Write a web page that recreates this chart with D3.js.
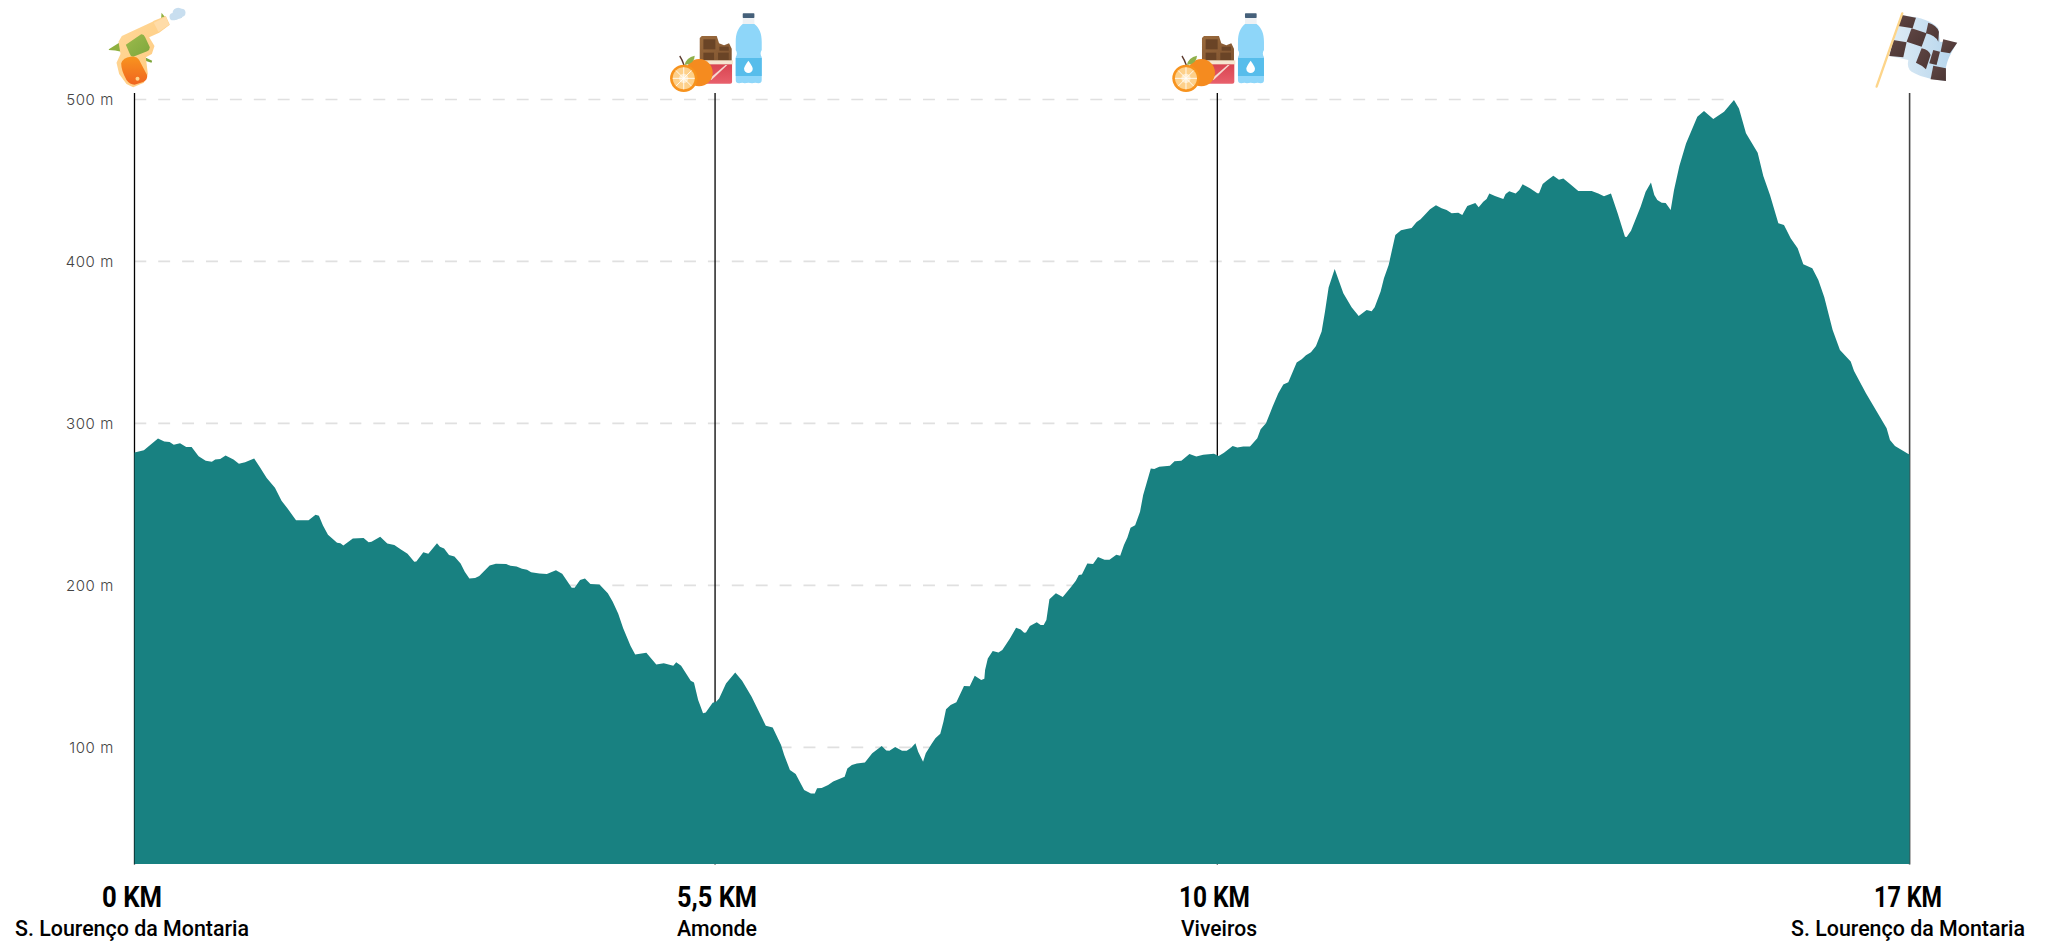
<!DOCTYPE html>
<html><head><meta charset="utf-8">
<script src="https://cdnjs.cloudflare.com/ajax/libs/d3/7.8.5/d3.min.js"></script>
<style>html,body{margin:0;padding:0;background:#fff}svg{display:block}</style>
</head><body><svg id="c" width="2049" height="941"></svg>
<script>
const distanceKm=[0,0.09,0.225,0.285,0.336,0.376,0.436,0.495,0.547,0.614,0.682,0.741,0.773,0.821,0.872,0.948,1.0,1.059,1.146,1.198,1.266,1.345,1.408,1.464,1.547,1.667,1.734,1.766,1.805,1.853,1.94,1.972,2.0,2.091,2.194,2.242,2.27,2.353,2.421,2.488,2.548,2.615,2.679,2.699,2.766,2.814,2.897,2.925,2.965,3.012,3.064,3.123,3.163,3.207,3.262,3.302,3.401,3.461,3.56,3.6,3.659,3.711,3.759,3.798,3.878,3.949,4.036,4.096,4.148,4.187,4.215,4.267,4.314,4.366,4.453,4.533,4.58,4.632,4.68,4.751,4.795,4.902,4.997,5.069,5.16,5.188,5.235,5.327,5.358,5.398,5.416,5.445,5.471,5.537,5.57,5.599,5.665,5.753,5.819,5.91,6.046,6.112,6.192,6.222,6.277,6.332,6.413,6.478,6.515,6.537,6.581,6.643,6.691,6.801,6.827,6.87,6.918,6.995,7.065,7.156,7.2,7.23,7.285,7.351,7.395,7.439,7.479,7.505,7.552,7.578,7.633,7.67,7.717,7.747,7.772,7.816,7.871,7.944,7.999,8.047,8.109,8.139,8.146,8.172,8.219,8.274,8.311,8.384,8.443,8.487,8.52,8.538,8.575,8.641,8.678,8.707,8.733,8.762,8.824,8.89,8.971,9.015,9.044,9.073,9.125,9.18,9.227,9.29,9.337,9.403,9.44,9.476,9.509,9.539,9.583,9.63,9.66,9.733,9.766,9.814,9.916,9.96,10.026,10.103,10.169,10.235,10.338,10.383,10.434,10.517,10.562,10.619,10.683,10.753,10.785,10.836,10.9,10.954,11.002,11.05,11.13,11.178,11.219,11.267,11.315,11.369,11.401,11.436,11.494,11.577,11.656,11.724,11.8,11.848,11.877,11.934,11.966,12.011,12.075,12.129,12.183,12.231,12.279,12.317,12.407,12.464,12.518,12.566,12.614,12.678,12.716,12.764,12.841,12.873,12.917,12.949,12.975,13.029,13.109,13.131,13.166,13.227,13.262,13.294,13.364,13.435,13.451,13.486,13.524,13.588,13.642,13.684,13.748,13.827,13.955,14.019,14.073,14.14,14.204,14.274,14.29,14.332,14.424,14.472,14.523,14.555,14.584,14.626,14.664,14.712,14.744,14.795,14.859,14.967,15.031,15.12,15.223,15.318,15.366,15.433,15.545,15.599,15.663,15.743,15.797,15.861,15.928,15.982,16.068,16.126,16.183,16.263,16.333,16.436,16.468,16.582,16.78,16.812,16.86,16.988,17];
const elevationM=[282.1,283.5,290.7,288.9,288.5,286.8,287.7,285.4,285.4,279.8,277,276.3,277.8,278,280.2,277.8,275.1,276.1,278.4,273.3,266.3,260.3,252.3,247.7,240.3,240.3,243.6,243,237,231.3,226.3,226.1,224.7,229,229.2,226.7,227,230,225.9,224.9,222.4,219.5,214.6,214.8,220.4,219.5,226.1,223.9,222.8,218.7,217.9,213.6,208.4,204.3,204.5,205.8,212.3,213.4,213.2,212.1,211.7,210.3,209.7,208.2,207.4,207,209.3,207.2,202.3,198.6,198.6,203.3,204.3,200.8,200.6,195.1,189.9,182.7,173.5,162.6,157.4,158.4,151.2,151.9,150.4,152.5,150.4,141.2,140.1,129.2,126.1,121,121.6,127.6,128.2,130.2,139.5,146.3,141.2,131.3,113.4,112.3,101.4,95.3,86,83.5,73.7,71.6,71.6,74.7,74.9,76.7,79,81.9,87,89.1,90.1,90.7,96.3,100.8,98.1,97.9,100.2,97.9,97.9,99.8,102.5,97.3,91.2,96.3,102.1,105.6,108.4,115.8,123.5,126.1,127.8,137.9,137.7,144.2,141.6,142.4,147.7,154.9,159.5,158.6,160.1,167.3,173.9,172.8,170.8,171,174.9,177.2,175.5,175.5,178.6,191.4,195.1,192.8,199.2,202.9,206.4,206.8,213.6,213.2,217.5,215.8,215.8,218.9,218.3,224.9,229.6,235.6,237.2,245.5,255.8,272.2,271.8,273.3,273.9,276.7,277,281.1,279.6,280.7,281.3,279.9,281.9,286.1,285.1,285.7,285.7,290.9,296.4,300.1,310.4,318.6,324,325.4,337.6,339.6,342.1,343.9,347.8,356.7,369,384,395.4,380.4,371.7,366.4,370.1,369.3,371.7,381.4,389.6,397.8,416.4,419.2,420.1,420.7,424.4,426,432.2,434.7,432.8,431.8,429.7,430.1,428.7,434.3,436.1,433.4,436.9,438.6,441.9,440.4,438.6,441.7,443.3,441.9,444.1,447.6,445.2,442.1,442.1,447.8,449.9,453,450.5,451.3,447.8,443.5,443.5,441.9,440.2,441.9,429.7,415.3,415.1,419,433.8,443.1,448.7,441,438,436.3,436.1,431.8,444.1,458.9,472.9,489.4,492.9,488,492.5,499.7,494.5,479.1,467.2,452.8,441.1,423.6,422.5,414.3,408.1,398.3,395.8,388.6,377.9,357.7,345.4,338.2,332.4,318.6,297,289.8,286.1,281.2,281];
const yTicks=[100,200,300,400,500];
const stopKm=[0,5.56,10.37,17];
const stopKmLabels=["0 KM","5,5 KM","10 KM","17 KM"];
const stopPlaces=["S. Lourenço da Montaria","Amonde","Viveiros","S. Lourenço da Montaria"];

const plotLeft=134.5,plotRight=1909.6,plotTop=99.5,plotBottom=864;
const x=d3.scaleLinear().domain([0,17]).range([plotLeft,plotRight]);
const y=d3.scaleLinear().domain([500,28]).range([plotTop,plotBottom]);
const svg=d3.select("#c");
const TEAL="#188181";

// gradients
const defs=svg.append("defs");
function grad(id,a,b,x2=0,y2=1){const g=defs.append("linearGradient").attr("id",id).attr("x1",0).attr("y1",0).attr("x2",x2).attr("y2",y2);
 g.append("stop").attr("offset",0).attr("stop-color",a);g.append("stop").attr("offset",1).attr("stop-color",b);}
grad("gBody","#ffd99a","#ffc97c",1,1);grad("gGrip","#f8941f","#f0651f");grad("gGreen","#9cbb4d","#7ea63c",1,1);
grad("gWrap","#d8434f","#e8606c");grad("gBlue","#e0edf6","#b4d4ec",1,0);grad("gDark","#5f4644","#4c3634",1,1);
grad("gChoc","#9a6a3c","#7d5230",1,1);

// grid
const gridEnd=1730;
svg.append("g").selectAll("line").data(yTicks).join("line")
 .attr("x1",plotLeft-.2).attr("x2",gridEnd).attr("y1",d=>y(d)).attr("y2",d=>y(d))
 .attr("stroke","#e0e0e0").attr("stroke-width",1.7).attr("stroke-dasharray","11.95 11.95");

// marker lines
svg.append("g").selectAll("line").data(stopKm).join("line")
 .attr("x1",d=>x(d)).attr("x2",d=>x(d)).attr("y1",93).attr("y2",864.5)
 .attr("stroke",(d,i)=>i===3?"#444":"#000").attr("stroke-width",(d,i)=>i===3?1.6:1.3);

// area
const area=d3.area().x(d=>x(d[0])).y0(plotBottom).y1(d=>y(d[1]));
svg.append("path").datum(d3.zip(distanceKm,elevationM)).attr("d",area).attr("fill",TEAL);

// y labels
svg.append("g").selectAll("text").data(yTicks).join("text")
 .attr("x",114).attr("y",d=>y(d)+5.5).attr("text-anchor","end")
 .attr("font-family","'Inter','Roboto',sans-serif").attr("font-weight",300).attr("font-size",15)
 .attr("letter-spacing",0.6).attr("fill","#444").text(d=>d+" m");

// x labels: the original's condensed face is approximated by fitting Roboto to its measured widths
const labelCx=[132,717,1214.5,1908], placeCx=[132,717,1219,1908];
const labelW=[60,80,71,68], placeW=[234,80,76,234];
const lab=svg.append("g").attr("font-family","'Roboto',sans-serif").attr("text-anchor","middle").attr("fill","#000");
lab.selectAll("text.km").data(stopKm).join("text").attr("class","km")
 .attr("x",(d,i)=>labelCx[i]).attr("y",906.5).attr("font-size",29.5).attr("font-weight",700)
 .attr("textLength",(d,i)=>labelW[i]).attr("lengthAdjust","spacingAndGlyphs")
 .text((d,i)=>stopKmLabels[i]);
lab.selectAll("text.pl").data(stopKm).join("text").attr("class","pl")
 .attr("x",(d,i)=>placeCx[i]).attr("y",936).attr("font-size",21.5).attr("font-weight",500)
 .attr("textLength",(d,i)=>placeW[i]).attr("lengthAdjust","spacingAndGlyphs")
 .text((d,i)=>stopPlaces[i]);

// helpers for icon drawing, local units = 3x pixels
function icon(tx){return svg.append("g").attr("transform",`translate(${tx},0) scale(${1/3})`);}
function P(g,d,f,extra={}){const p=g.append("path").attr("d",d).attr("fill",f);for(const k in extra)p.attr(k,extra[k]);return p;}

// starter pistol
(function(){const g=icon(x(0)-404/3);
 P(g,"M485,38 L496,52 L484,54Z","#8fb03f");
 P(g,"M327,148 L358,128 L368,156 Q345,150 327,150Z","#8fb03f");
 P(g,"M432,170 L457,182 L455,188 L436,182Z","#7ea63c");
 P(g,"M366,108 L458,65 L462,62 L498,48 L510,74 L478,98 L448,112 L464,138 L456,162 L438,172 L444,222 L432,248 L400,262 L380,252 L358,222 L350,188 L362,162 L356,125Z","url(#gBody)");
 P(g,"M462,68 L498,50 L508,74 L476,96Z","#ffdca8");
 P(g,"M378,134 L424,103 Q432,102 436,112 L450,142 Q450,150 442,154 L400,170 Q392,170 390,162Z","url(#gGreen)");
 P(g,"M364,190 Q370,172 392,170 Q410,168 418,180 L442,226 Q444,240 430,246 L404,254 Q390,254 380,240 Q364,212 364,190Z","url(#gGrip)");
 g.append("circle").attr("cx",413).attr("cy",236).attr("r",6).attr("fill","#ffd48a");
 [[520,50,11],[535,40,17],[545,38,12],[528,52,8]].forEach(c=>g.append("circle").attr("cx",c[0]).attr("cy",c[1]).attr("r",c[2]).attr("fill","#c8deef"));
})();

// aid station icons
function food(tx){const g=icon(tx);
 // chocolate
 P(g,"M243,108 L288,108 L295,130 L310,136 L325,130 L333,146 L333,190 L237,190 L237,114Z","url(#gChoc)");
 [[248,118,36,30],[296,140,28,12],[248,158,32,22],[292,158,32,22]].forEach(r=>g.append("rect").attr("x",r[0]).attr("y",r[1]).attr("width",r[2]).attr("height",r[3]).attr("fill","#6a4426"));
 // wrapper
 P(g,"M245,190 L334,190 L334,246 Q334,251 328,251 L245,251Z","url(#gWrap)");
 g.append("rect").attr("x",240).attr("y",181).attr("width",97).attr("height",12).attr("fill","#f6e6d0");
 P(g,"M266,236 L314,195 L320,195 L272,240Z","#f5d9d0");
 // orange back
 g.append("circle").attr("cx",235).attr("cy",218).attr("r",41).attr("fill","#f58b1f");
 P(g,"M177,168 Q184,178 190,196","none",{stroke:"#5c3a2e","stroke-width":4});
 P(g,"M192,195 Q196,172 222,167 Q222,190 192,195Z","#8fb04a");
 // slice
 g.append("circle").attr("cx",189).attr("cy",235).attr("r",41).attr("fill","#f7931e");
 g.append("circle").attr("cx",189).attr("cy",235).attr("r",33).attr("fill","#fdd08a");
 g.append("circle").attr("cx",189).attr("cy",235).attr("r",14).attr("fill","#ffe9c4");
 d3.range(8).forEach(i=>{const a=i*Math.PI/4;g.append("line").attr("x1",189).attr("y1",235)
  .attr("x2",189+33*Math.cos(a)).attr("y2",235+33*Math.sin(a)).attr("stroke","#fff").attr("stroke-width",2.5);});
 // bottle
 g.append("rect").attr("x",366).attr("y",40).attr("width",35).attr("height",14).attr("rx",2).attr("fill","#45607a");
 P(g,"M366,54 L401,54 L401,72 L366,72Z","#eef1f4");
 P(g,"M366,72 C352,84 345,100 345,125 L345,150 Q352,160 345,172 L345,240 Q345,250 355,250 Q365,246 372,250 Q383,246 394,250 Q404,246 413,250 Q423,250 423,240 L423,172 Q416,160 423,150 L423,125 C423,100 416,84 401,72Z","#8ed6f9");
 g.append("rect").attr("x",345).attr("y",174).attr("width",78).attr("height",54).attr("fill","#57bdeb");
 P(g,"M383,182 Q396,200 396,206 A13,13 0 0 1 370,206 Q370,200 383,182Z","#fff");
}
food(x(5.56)-283/3);food(x(10.37)-283/3);

// finish flag
(function(){const g=icon(x(17)-209/3);
 P(g,"M185,45 C220,50 270,55 295,85 L300,125 L350,128 C335,160 310,190 318,242 C290,240 250,235 215,215 Q200,205 205,180 L148,168Z","url(#gBlue)");
 ["M185,45 L228,53 L218,85 L175,78Z",
  "M265,68 Q290,75 297,95 L295,125 Q285,105 258,100Z",
  "M215,85 L260,100 L245,140 L200,125Z",
  "M160,120 L200,127 L190,172 L148,168Z",
  "M245,145 Q268,150 272,165 L258,208 Q245,195 228,188Z",
  "M310,118 L352,128 L330,160 L302,155Z",
  "M280,150 L300,155 L290,195 L268,190Z",
  "M280,197 L318,205 L318,243 L272,238Z"].forEach(d=>P(g,d,"url(#gDark)"));
 g.append("line").attr("x1",187).attr("y1",40).attr("x2",110).attr("y2",260).attr("stroke","#fdd58a").attr("stroke-width",7).attr("stroke-linecap","round");
})();
</script></body></html>
